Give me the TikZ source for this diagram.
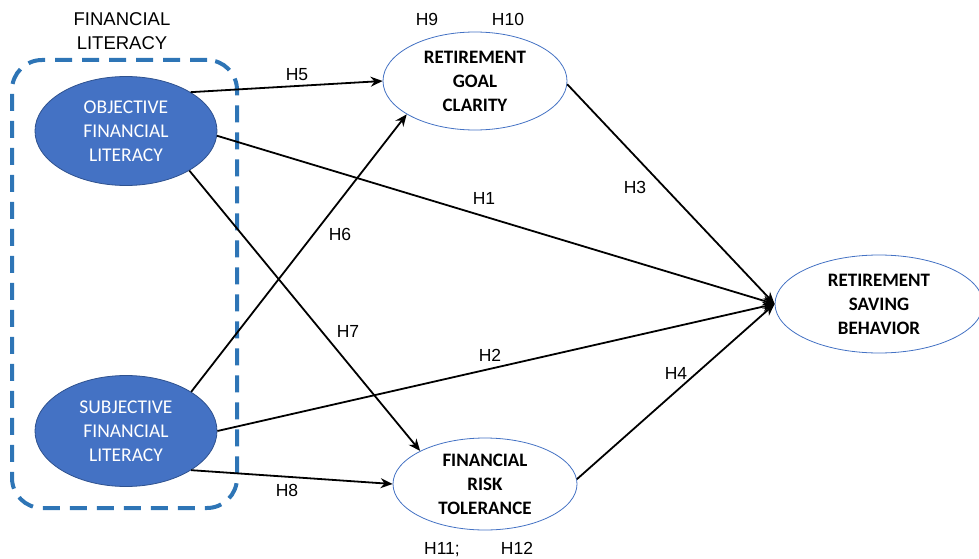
\documentclass[tikz,border=0pt]{standalone}
\usepackage{fontspec}
\setmainfont{Liberation Sans}
\newfontfamily\calib{Carlito}
\usetikzlibrary{shapes.geometric,arrows.meta}
\definecolor{fillblue}{HTML}{4472C4}
\definecolor{edgeblue}{HTML}{2F528F}
\definecolor{dashblue}{HTML}{2E75B6}
\begin{document}
\begin{tikzpicture}[x=1pt,y=-1pt,
  bluenode/.style={ellipse,fill=fillblue,draw=edgeblue,line width=0.8pt,inner sep=0pt,
    minimum width=182pt,minimum height=109pt,text=white,align=center,
    font=\calib\fontsize{19.5}{24}\selectfont},
  whitenode/.style={ellipse,fill=white,draw=fillblue,line width=0.8pt,inner sep=0pt,
    minimum width=184pt,align=center,font=\calib\bfseries\fontsize{19}{24}\selectfont},
  hlabel/.style={font=\fontsize{17.5}{20}\selectfont,inner sep=0pt},
  conn/.style={line width=1.8pt,-{Stealth[length=12pt,width=10pt]}},
]
\useasboundingbox (0,0) rectangle (979,559);
% dashed group box
\node[draw=dashblue,line width=4pt,dash pattern=on 17pt off 10pt,rounded corners=30pt,
  minimum width=225pt,minimum height=448pt,inner sep=0pt] (box) at (124.5,284) {};
\node[font=\fontsize{18.5}{24}\selectfont,align=center,inner sep=0pt] (fl) at (122,31) {FINANCIAL\\LITERACY};
% nodes
\node[bluenode] (obj) at (126,131) {OBJECTIVE\\FINANCIAL\\LITERACY};
\node[bluenode,minimum height=111pt] (subj) at (126,431) {SUBJECTIVE\\FINANCIAL\\LITERACY};
\node[whitenode,minimum height=98pt] (goal) at (475,81) {RETIREMENT\\GOAL\\CLARITY};
\node[whitenode,minimum height=92pt] (risk) at (485,484) {FINANCIAL\\RISK\\TOLERANCE};
\node[whitenode,minimum width=208pt,minimum height=98pt] (save) at (879,304) {RETIREMENT\\SAVING\\BEHAVIOR};
% connectors
\draw[conn] (obj.31) -- (goal.180);
\draw[conn] (obj.-3) -- (save.180);
\draw[conn] (obj.-32) -- (risk.153);
\draw[conn] (subj.31) -- (goal.-154);
\draw[conn] (subj.0) -- (save.180);
\draw[conn] (subj.-31) -- (risk.180);
\draw[conn] (goal.-2) -- (save.180);
\draw[conn] (risk.3) -- (save.180);
% labels
\node[hlabel] (h5) at (297,75) {H5};
\node[hlabel] (h1) at (484,198) {H1};
\node[hlabel] (h7) at (348,331) {H7};
\node[hlabel] (h6) at (340,234) {H6};
\node[hlabel] (h2) at (490,355) {H2};
\node[hlabel] (h8) at (287,490) {H8};
\node[hlabel] (h3) at (635,187) {H3};
\node[hlabel] (h4) at (676,373) {H4};
\node[hlabel] (h9) at (427,19) {H9};
\node[hlabel] (h10) at (508,19) {H10};
\node[hlabel,anchor=base] (h11) at (442,554) {H11;};
\node[hlabel,anchor=base] (h12) at (517,554) {H12};
\end{tikzpicture}
\end{document}
